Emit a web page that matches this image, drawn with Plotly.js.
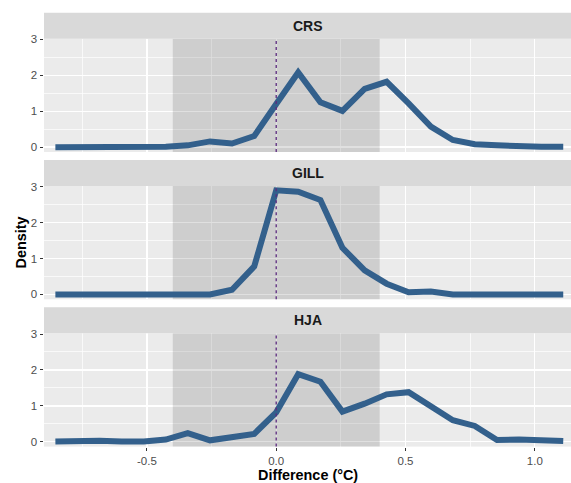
<!DOCTYPE html>
<html>
<head>
<meta charset="utf-8">
<script src="https://cdn.plot.ly/plotly-3.0.1.min.js"></script>
<style>html,body{margin:0;padding:0;background:#fff;}#chart{width:571px;height:483px;}</style>
</head>
<body>
<div id="chart"></div>
<script>
// ---- data ----
const difference = [-0.854, -0.768, -0.683, -0.598, -0.512, -0.427, -0.342, -0.256, -0.171, -0.085,
  0, 0.085, 0.171, 0.256, 0.342, 0.427, 0.512, 0.598, 0.683, 0.768, 0.854, 0.939, 1.025, 1.110];
const sites = ['CRS', 'GILL', 'HJA'];
const densityCRS = [0, 0, 0, 0, 0, 0.01, 0.05, 0.16, 0.10, 0.31,
  1.20, 2.08, 1.25, 1.01, 1.62, 1.82, 1.22, 0.57, 0.20, 0.08, 0.05, 0.02, 0.01, 0.01];
const densityGILL = [0, 0, 0, 0, 0, 0, 0, 0, 0.13, 0.78,
  2.90, 2.86, 2.63, 1.30, 0.67, 0.30, 0.06, 0.08, 0, 0, 0, 0, 0, 0];
const densityHJA = [0.01, 0.04, 0.03, 0.01, 0.01, 0.06, 0.24, 0.04, 0.15, 0.22,
  0.82, 1.88, 1.67, 0.84, 1.06, 1.32, 1.38, 0.98, 0.60, 0.44, 0.05, 0.06, 0.05, 0.02];
const shadeRange = [-0.4, 0.4];
const refLine = 0;
const xTickVals = [-0.5, 0, 0.5, 1.0];
const xTickText = ['-0.5', '0.0', '0.5', '1.0'];
const yTickVals = [0, 1, 2, 3];
const yTickText = ['0', '1', '2', '3'];
const xTitle = 'Difference (°C)';
const yTitle = 'Density';

// ---- layout geometry (pixels) ----
const W = 571, H = 483, L = 44;
const stripH = 26, panelH = 113.3, gap = 8, top0 = 12.7;
const f = y => 1 - y / H;
const FONT = 'Liberation Sans, Arial, Helvetica, sans-serif';
const lineColor = '#33608C';
const yRange = [-0.135, 3.02];

const series = [densityCRS, densityGILL, densityHJA];
const traces = [];
const layout = {
  width: W, height: H,
  margin: {l: L, r: 0, t: 0, b: 0, pad: 0},
  paper_bgcolor: '#ffffff',
  plot_bgcolor: '#EBEBEB',
  showlegend: false,
  font: {family: FONT},
  shapes: [], annotations: []
};

series.forEach((ys, i) => {
  const n = i + 1;
  const sfx = n === 1 ? '' : String(n);
  const stripTop = top0 + i * (stripH + panelH + gap);
  const pTop = stripTop + stripH, pBot = pTop + panelH;
  // shaded interval (drawn as a filled trace so it sits over the gridlines, under the line)
  traces.push({
    x: [shadeRange[0], shadeRange[1], shadeRange[1], shadeRange[0], shadeRange[0]],
    y: [yRange[0] - 1, yRange[0] - 1, yRange[1] + 1, yRange[1] + 1, yRange[0] - 1],
    type: 'scatter', mode: 'lines', fill: 'toself',
    fillcolor: 'rgba(0,0,0,0.12)', line: {width: 0, color: 'rgba(0,0,0,0)'},
    xaxis: 'x' + sfx, yaxis: 'y' + sfx, hoverinfo: 'skip'
  });
  traces.push({
    x: difference, y: ys, type: 'scatter', mode: 'lines',
    xaxis: 'x' + sfx, yaxis: 'y' + sfx,
    line: {color: lineColor, width: 6},
    hoverinfo: 'skip'
  });
  const isBottom = n === 3;
  layout['xaxis' + sfx] = {
    domain: [0, 1], anchor: 'y' + sfx, range: [-0.898, 1.140],
    tickvals: xTickVals, ticktext: xTickText,
    showticklabels: isBottom, ticks: isBottom ? 'outside' : '',
    ticklen: 3.5, tickwidth: 1, tickcolor: '#333333',
    tickfont: {size: 11.5, color: '#4D4D4D', family: FONT},
    showgrid: true, gridcolor: '#ffffff', gridwidth: 1.4,
    minor: {tickvals: [-0.75, -0.25, 0.25, 0.75], showgrid: true, gridcolor: '#ffffff', gridwidth: 0.7},
    zeroline: false, showline: false, fixedrange: true
  };
  layout['yaxis' + sfx] = {
    domain: [f(pBot), f(pTop)], anchor: 'x' + sfx, range: yRange,
    tickvals: yTickVals, ticktext: yTickText,
    ticks: 'outside', ticklen: 3.5, tickwidth: 1, tickcolor: '#333333',
    tickfont: {size: 11.5, color: '#4D4D4D', family: FONT},
    showgrid: true, gridcolor: '#ffffff', gridwidth: 1.4,
    minor: {tickvals: [0.5, 1.5, 2.5], showgrid: true, gridcolor: '#ffffff', gridwidth: 0.7},
    zeroline: false, showline: false, fixedrange: true
  };
  // dashed reference line
  layout.shapes.push({
    type: 'line', xref: 'x' + sfx, yref: 'y' + sfx + ' domain',
    x0: refLine, x1: refLine, y0: 0, y1: 1,
    line: {color: '#5B2A7E', width: 1.3, dash: '3px,3px'}, layer: 'above'
  });
  // strip
  layout.shapes.push({
    type: 'rect', xref: 'paper', yref: 'paper',
    x0: 0, x1: 1, y0: f(pTop), y1: f(stripTop),
    fillcolor: '#D9D9D9', line: {width: 0}, layer: 'above'
  });
  layout.annotations.push({
    xref: 'paper', yref: 'paper', x: 0.5, y: f(stripTop + stripH / 2),
    xanchor: 'center', yanchor: 'middle', showarrow: false,
    text: '<b>' + sites[i] + '</b>', font: {size: 14, color: '#1A1A1A', family: FONT}
  });
});

layout.annotations.push({
  xref: 'paper', yref: 'paper', x: 0.5, y: f(475), xanchor: 'center', yanchor: 'middle',
  showarrow: false, text: '<b>' + xTitle + '</b>', font: {size: 14.4, color: '#000000', family: FONT}
});
layout.annotations.push({
  xref: 'paper', yref: 'paper', x: (20 - L) / (W - L), y: f(242.5), xanchor: 'center', yanchor: 'middle',
  textangle: -90, showarrow: false, text: '<b>' + yTitle + '</b>',
  font: {size: 14.4, color: '#000000', family: FONT}
});

Plotly.newPlot('chart', traces, layout, {displayModeBar: false, staticPlot: true});
</script>
</body>
</html>
